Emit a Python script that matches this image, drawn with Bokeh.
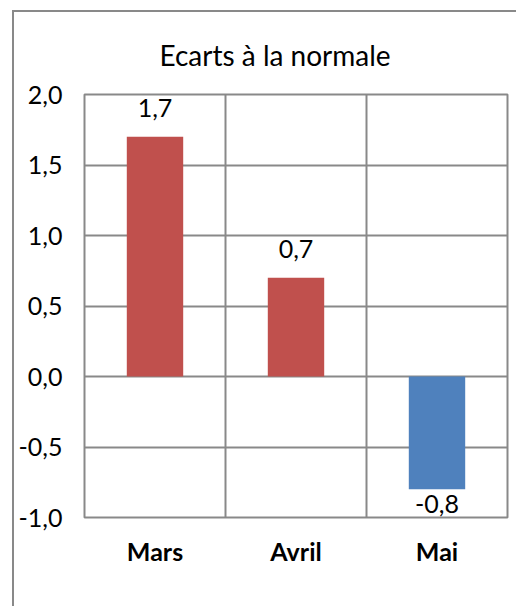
from bokeh.plotting import figure
from bokeh.models import ColumnDataSource, FixedTicker, LabelSet, FactorRange, Range1d, Title
from bokeh.embed import file_html
from bokeh.resources import INLINE
from bokeh.core.properties import value

# ---- data ----
title_text = "Ecarts à la normale"
categories = ["Mars", "Avril", "Mai"]
values = [1.7, 0.7, -0.8]
y_ticks = [-1.0, -0.5, 0.0, 0.5, 1.0, 1.5, 2.0]
y_tick_labels = ["-1,0", "-0,5", "0,0", "0,5", "1,0", "1,5", "2,0"]

RED = "#C0504D"
BLUE = "#4F81BD"
GRID = "#898989"
FONT = "Lato"

colors = [RED if v >= 0 else BLUE for v in values]
labels = [f"{v:.1f}".replace(".", ",") for v in values]

src = ColumnDataSource(dict(cat=categories, val=values, color=colors, lab=labels))
pos = ColumnDataSource(dict(cat=[c for c, v in zip(categories, values) if v >= 0],
                            val=[v for v in values if v >= 0],
                            lab=[l for l, v in zip(labels, values) if v >= 0]))
neg = ColumnDataSource(dict(cat=[c for c, v in zip(categories, values) if v < 0],
                            val=[v for v in values if v < 0],
                            lab=[l for l, v in zip(labels, values) if v < 0]))

p = figure(x_range=FactorRange(*categories, range_padding=0),
           y_range=Range1d(-1.0, 2.0),
           width=504, height=596,
           output_backend="svg", toolbar_location=None,
           min_border_left=70, min_border_top=82, min_border_right=11, min_border_bottom=91)

# outer chart-area frame (only its left and top edges are inside the picture)
p.styles = {"margin-left": "12px", "margin-top": "10px",
            "border-left": f"2px solid {GRID}", "border-top": f"2px solid {GRID}"}

p.title = Title(text=title_text, align="left", offset=75, standoff=46,
                text_font=FONT, text_font_size="28px", text_font_style="normal",
                text_color="black")

p.vbar(x="cat", top="val", bottom=0, width=0.4, fill_color="color", line_color=None, source=src)

# frame / grid
p.outline_line_color = GRID
p.outline_line_width = 2
p.xgrid.ticker = FixedTicker(ticks=[0, 1, 2, 3])
p.xgrid.grid_line_color = GRID
p.xgrid.grid_line_width = 2
p.ygrid.grid_line_color = GRID
p.ygrid.grid_line_width = 2

# y axis
p.yaxis.ticker = FixedTicker(ticks=y_ticks)
p.yaxis.major_label_overrides = {t: l for t, l in zip(y_ticks, y_tick_labels)}
p.yaxis.axis_line_color = None
p.yaxis.major_tick_line_color = None
p.yaxis.minor_tick_line_color = None
p.yaxis.major_label_standoff = 16
p.yaxis.major_label_text_font = FONT
p.yaxis.major_label_text_font_size = "25px"
p.yaxis.major_label_text_color = "black"

# x axis
p.xaxis.axis_line_color = None
p.xaxis.major_tick_line_color = None
p.xaxis.major_label_standoff = 12
p.xaxis.major_label_text_font = FONT
p.xaxis.major_label_text_font_size = "25px"
p.xaxis.major_label_text_font_style = "bold"
p.xaxis.major_label_text_color = "black"

# data labels
p.add_layout(LabelSet(x="cat", y="val", text="lab", source=pos, y_offset=20,
                      text_align="center", text_baseline="alphabetic",
                      text_font=value(FONT), text_font_size="25px", text_color="black"))
p.add_layout(LabelSet(x="cat", y="val", text="lab", source=neg, y_offset=-24,
                      text_align="center", text_baseline="alphabetic",
                      text_font=value(FONT), text_font_size="25px", text_color="black"))

p.background_fill_color = "white"
p.border_fill_color = "white"

open("out.html", "w").write(file_html(p, INLINE))
